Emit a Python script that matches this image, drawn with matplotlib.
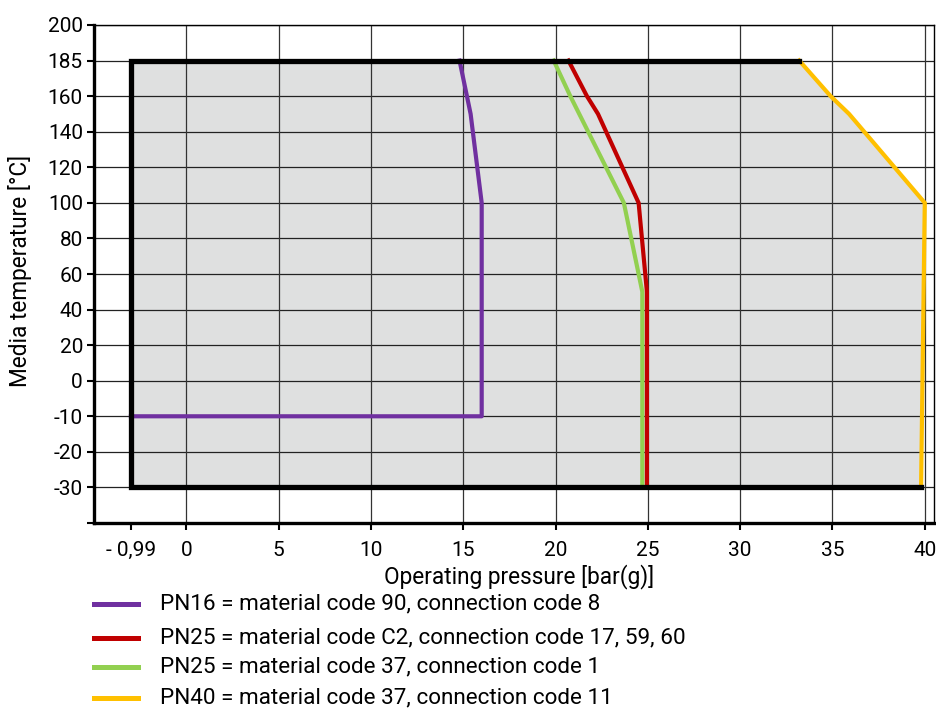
import numpy as np
import matplotlib
matplotlib.use("Agg")
from matplotlib import pyplot as plt
from matplotlib.lines import Line2D

plt.rcParams['font.family'] = ['Roboto', 'DejaVu Sans']

# axis scales (both are drawn with uneven spacing in the original)
y_tick_vals = [-40, -30, -20, -10, 0, 20, 40, 60, 80, 100, 120, 140, 160, 185, 200]
y_tick_labels = ['', '-30', '-20', '-10', '0', '20', '40', '60', '80', '100',
                 '120', '140', '160', '185', '200']
x_tick_vals = [-0.99, 0, 5, 10, 15, 20, 25, 30, 35, 40]
x_tick_labels = ['- 0,99', '0', '5', '10', '15', '20', '25', '30', '35', '40']

# operating envelope (pressure, temperature)
env_p = [-0.99, -0.99, 33.2, 34.9, 35.9, 40.0, 39.8]
env_t = [-30, 185, 185, 160, 150, 100, -30]

# curves
pn16_p = [-0.99, 16.0, 16.0, 15.4, 14.8]
pn16_t = [-10, -10, 100, 150, 185]
pn25c2_p = [20.7, 21.7, 22.3, 24.5, 24.95, 24.95]
pn25c2_t = [185, 160, 150, 100, 50, -30]
pn25_37_p = [19.9, 20.8, 23.7, 24.7, 24.7]
pn25_37_t = [185, 160, 100, 50, -30]
pn40_p = [25.0, 39.8, 40.0, 35.9, 34.9, 33.2]
pn40_t = [-30, -30, 100, 150, 160, 185]

legend_labels = ['PN16 = material code 90, connection code 8',
                 'PN25 = material code C2, connection code 17, 59, 60',
                 'PN25 = material code 37, connection code 1',
                 'PN40 = material code 37, connection code 11']
colors = ['#7030a0', '#c00000', '#92d050', '#ffc000']


def ypos(t):
    return np.interp(t, y_tick_vals, np.arange(len(y_tick_vals)))


def xpos(p):
    return np.interp(p, [-0.99, 0, 40], [-3.0, 0, 40])


fig = plt.figure(figsize=(9.37, 7.08), dpi=100)
ax = fig.add_axes([94 / 937, 1 - 523 / 708, 840 / 937, 498 / 708])

ax.fill(xpos(env_p), ypos(env_t), color='#dfe0e0', zorder=1, lw=0)

# grid
for i in range(len(y_tick_vals)):
    ax.axhline(i, color='#222222', lw=0.9, zorder=2)
for v in x_tick_vals[1:]:
    ax.axvline(xpos(v), color='#333333', lw=0.9, zorder=2)

ax.plot(xpos(pn40_p), ypos(pn40_t), color=colors[3], lw=3, zorder=3,
        solid_joinstyle='miter')
ax.plot(xpos(pn16_p), ypos(pn16_t), color=colors[0], lw=3, zorder=4)
ax.plot(xpos(pn25_37_p), ypos(pn25_37_t), color=colors[2], lw=3, zorder=4)
ax.plot(xpos(pn25c2_p), ypos(pn25c2_t), color=colors[1], lw=3, zorder=5)

# black border of the envelope
ax.plot(xpos([39.8, -0.99, -0.99, 33.2]), ypos([-30, -30, 185, 185]),
        color='black', lw=3.8, zorder=6, solid_joinstyle='miter')

ax.set_xlim(-5, 40.5)
ax.set_ylim(0, 14)
ax.set_yticks(np.arange(len(y_tick_vals)))
ax.set_yticklabels(y_tick_labels)
ax.set_xticks(xpos(x_tick_vals))
ax.set_xticklabels(x_tick_labels)
ax.tick_params(labelsize=15, length=5, width=1.5, color='black')
ax.tick_params(axis='x', pad=8)
ax.tick_params(axis='y', pad=3)

for s in ['left', 'bottom']:
    ax.spines[s].set_linewidth(2.4)
for s in ['top', 'right']:
    ax.spines[s].set_linewidth(1.0)

ax.set_xlabel('Operating pressure [bar(g)]', fontsize=16.3)
ax.xaxis.set_label_coords((519 - 94) / 840, (523 - 564) / 498)
ax.set_ylabel('Media temperature [°C]', fontsize=16.3)
ax.yaxis.set_label_coords((32 - 94) / 840, (523 - 271) / 498)

# legend drawn by hand below the plot
leg_y = [604, 638, 667, 698]
for c, lab, y in zip(colors, legend_labels, leg_y):
    yf = 1 - y / 708
    fig.add_artist(Line2D([94 / 937, 138 / 937], [yf, yf], color=c, lw=3.6))
    fig.text(160 / 937, yf, lab, fontsize=16.2, va='center', ha='left')

fig.savefig('out.png', dpi=100)
